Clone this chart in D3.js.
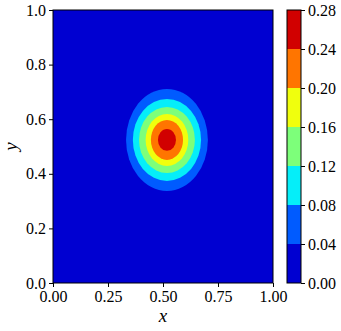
<!DOCTYPE html>
<html>
<head>
<meta charset="utf-8">
<script src="https://cdn.jsdelivr.net/npm/d3@7"></script>
<style>
  body { margin: 0; background: #fff; }
</style>
</head>
<body>
<script>
// contour levels and band colours (jet, 7 bands)
const levels = [0, 0.04, 0.08, 0.12, 0.16, 0.20, 0.24, 0.28];
const bandColors = ["#0000d1", "#005bff", "#05eef9", "#7dff7a", "#f0ff0d", "#ff7500", "#d10000"];

// blob centre and contour radii (x, y) for levels 0.04 .. 0.24
const center = [0.518, 0.524];
const ringRx = [0.186, 0.155, 0.127, 0.097, 0.073, 0.041];
const ringRy = [0.187, 0.150, 0.121, 0.095, 0.073, 0.040];

const xTicks = [0, 0.25, 0.5, 0.75, 1.0];
const yTicks = [0, 0.2, 0.4, 0.6, 0.8, 1.0];

const serif = '"Liberation Serif", "Times New Roman", serif';

let width = 341;
let height = 331;
let margin = { top: 10, bottom: 48, left: 53, right: 68 };

const svg = d3.select("body").append("svg")
    .attr("width", width)
    .attr("height", height);

let xScale = d3.scaleLinear().domain([0, 1]).range([margin.left, width - margin.right]);
let yScale = d3.scaleLinear().domain([0, 1]).range([height - margin.bottom, margin.top]);

svg.append("clipPath").attr("id", "plotclip")
    .append("rect")
    .attr("x", margin.left).attr("y", margin.top)
    .attr("width", xScale(1) - xScale(0))
    .attr("height", yScale(0) - yScale(1));

const plot = svg.append("g").attr("clip-path", "url(#plotclip)");

// lowest band fills the whole area
plot.append("rect")
    .attr("x", xScale(0)).attr("y", yScale(1))
    .attr("width", xScale(1) - xScale(0))
    .attr("height", yScale(0) - yScale(1))
    .attr("fill", bandColors[0]);

// nested contour bands, outer to inner
plot.selectAll("ellipse")
    .data(ringRx.map((rx, i) => ({ rx: rx, ry: ringRy[i], color: bandColors[i + 1] })))
    .enter()
    .append("ellipse")
    .attr("cx", xScale(center[0]))
    .attr("cy", yScale(center[1]))
    .attr("rx", d => xScale(center[0] + d.rx) - xScale(center[0]))
    .attr("ry", d => yScale(center[1]) - yScale(center[1] + d.ry))
    .attr("fill", d => d.color);

// axes
const xAxis = svg.append("g")
    .attr("transform", `translate(0,${yScale(0)})`)
    .call(d3.axisBottom(xScale).tickValues(xTicks).tickFormat(d3.format(".2f")).tickSizeOuter(0).tickSize(4).tickPadding(4));
const yAxis = svg.append("g")
    .attr("transform", `translate(${xScale(0)},0)`)
    .call(d3.axisLeft(yScale).tickValues(yTicks).tickFormat(d3.format(".1f")).tickSizeOuter(0).tickSize(4).tickPadding(3));

[xAxis, yAxis].forEach(a => {
    a.select(".domain").remove();
    a.attr("font-family", null).attr("font-size", null);
    a.selectAll("text").style("font-size", "16px").style("font-family", serif).attr("fill", "#000");
    a.selectAll("line").attr("stroke", "#000");
});

// frame
svg.append("rect")
    .attr("x", xScale(0)).attr("y", yScale(1))
    .attr("width", xScale(1) - xScale(0))
    .attr("height", yScale(0) - yScale(1))
    .attr("fill", "none").attr("stroke", "#000").attr("stroke-width", 1);

// axis labels
svg.append("text")
    .attr("x", (xScale(0) + xScale(1)) / 2)
    .attr("y", height - 9)
    .attr("text-anchor", "middle")
    .style("font-size", "19px")
    .style("font-family", serif)
    .style("font-style", "italic")
    .text("x");

svg.append("text")
    .attr("transform", `translate(17,${(yScale(0) + yScale(1)) / 2}) rotate(-90)`)
    .attr("text-anchor", "middle")
    .style("font-size", "19px")
    .style("font-family", serif)
    .style("font-style", "italic")
    .text("y");

// colorbar
const cbX = 287, cbW = 14;
let cScale = d3.scaleLinear().domain([0, 0.28]).range([yScale(0), yScale(1)]);

svg.append("g").selectAll("rect")
    .data(bandColors)
    .enter()
    .append("rect")
    .attr("x", cbX)
    .attr("y", (d, i) => cScale(levels[i + 1]))
    .attr("width", cbW)
    .attr("height", (d, i) => cScale(levels[i]) - cScale(levels[i + 1]))
    .attr("fill", d => d);

svg.append("rect")
    .attr("x", cbX).attr("y", cScale(0.28))
    .attr("width", cbW).attr("height", cScale(0) - cScale(0.28))
    .attr("fill", "none").attr("stroke", "#000").attr("stroke-width", 1);

const cAxis = svg.append("g")
    .attr("transform", `translate(${cbX + cbW},0)`)
    .call(d3.axisRight(cScale).tickValues(levels).tickFormat(d3.format(".2f")).tickSizeOuter(0).tickSize(4).tickPadding(3));
cAxis.select(".domain").remove();
cAxis.attr("font-family", null).attr("font-size", null);
cAxis.selectAll("text").style("font-size", "16px").style("font-family", serif).attr("fill", "#000");
cAxis.selectAll("line").attr("stroke", "#000");
</script>
</body>
</html>
